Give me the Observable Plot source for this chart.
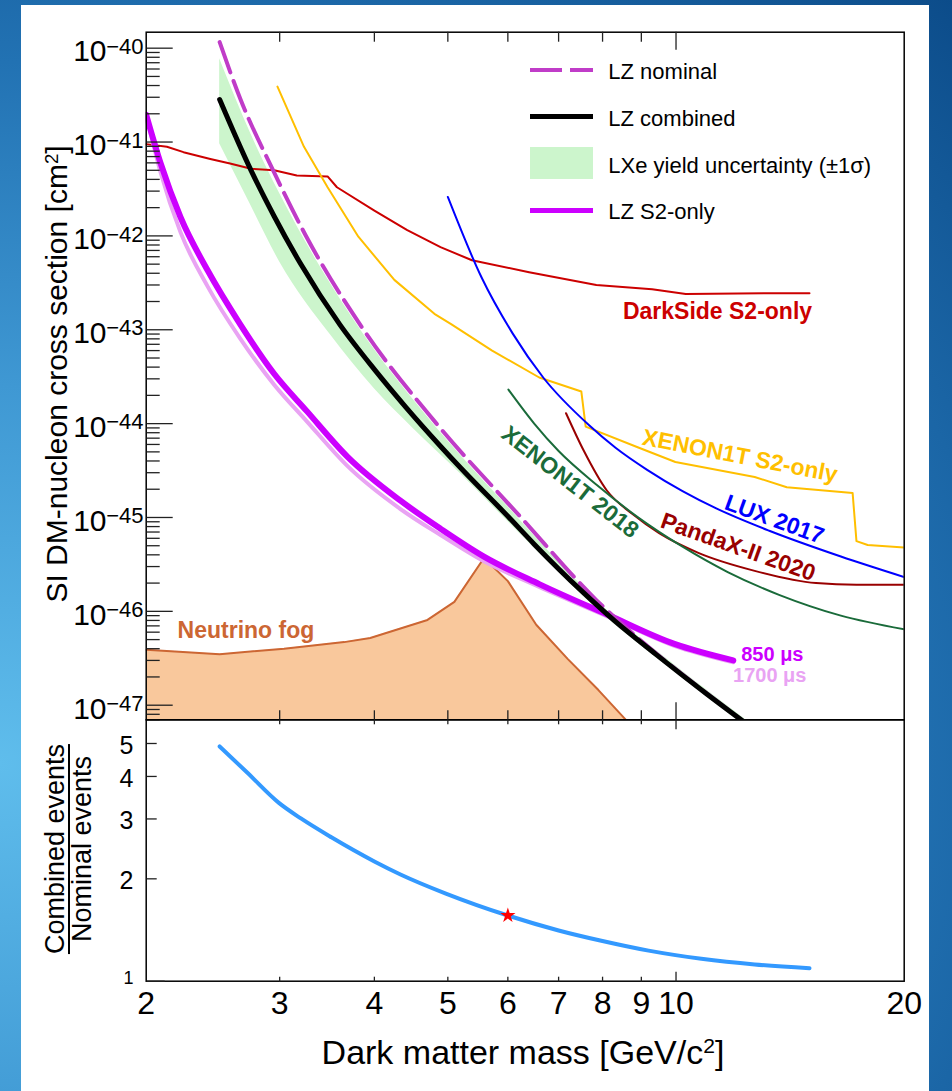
<!DOCTYPE html>
<html>
<head>
<meta charset="utf-8">
<script src="https://cdn.jsdelivr.net/npm/d3@7"></script>
<script src="https://cdn.jsdelivr.net/npm/@observablehq/plot@0.6"></script>
<style>
  html, body { margin:0; padding:0; }
  body { width:952px; height:1091px; position:relative; overflow:hidden;
    background: radial-gradient(ellipse at 0% 70%, #5fbdec 0%, #3f98d3 35%, #2272b3 65%, #0c4c8a 100%);
    font-family: "Liberation Sans", Arial, Helvetica, sans-serif; color:#000; }
  #panel { position:absolute; left:21px; top:5px; width:908px; height:1086px; background:#fff; }
  .layer { position:absolute; left:0; }
  .t { position:absolute; white-space:nowrap; line-height:1; }
  .t sup, .rt sup { font-size:0.62em; vertical-align:0.5em; line-height:0; }
  .sw { position:absolute; }
</style>
</head>
<body>
<div id="panel"></div>
<div id="top" class="layer" style="top:0"></div>
<div id="bot" class="layer" style="top:719px"></div>
<script>
// ---------------- data (mass in GeV/c^2, cross section in cm^2) ----------------
const lzCombinedMass = [2.5, 2.75, 2.95, 3.2, 3.6, 4.0, 4.4, 4.9, 5.2, 6.0, 6.5, 7.5, 8.3, 9.4, 11.0, 12.4];
const lzCombinedXsec = [2.84e-41, 4.99e-42, 1.62e-42, 4.98e-43, 1.14e-43, 3.78e-44, 1.50e-44, 5.64e-45, 3.36e-45, 1.03e-45, 5.2e-46, 1.66e-46, 7.9e-47, 3.5e-47, 1.3e-47, 6.3e-48];

const lzNominalMass = [2.5, 2.664, 2.941, 3.247, 3.871, 4.831, 6.245, 7.856, 9.315, 11.0, 12.4];
const lzNominalXsec = [1.16e-40, 2.84e-41, 4.98e-42, 1.01e-42, 1.0e-43, 1.0e-44, 1.0e-45, 1.31e-46, 3.83e-47, 1.32e-47, 6.3e-48];

const bandMass = [2.5, 2.75, 3.0, 3.5, 4.0, 4.5, 5.2, 6.0, 7.0, 8.0, 10.0, 12.4];
const bandHigh = [7.71e-41, 1.21e-41, 2.83e-42, 3.11e-43, 6.17e-44, 1.81e-44, 4.57e-45, 1.30e-45, 3.37e-46, 1.14e-46, 2.62e-47, 6.87e-48];
const bandLow  = [9.57e-42, 2.09e-42, 5.28e-43, 8.83e-44, 2.35e-44, 8.87e-45, 2.90e-45, 9.06e-46, 2.61e-46, 9.40e-47, 2.20e-47, 5.80e-48];

const s2Mass = [2.0, 2.09, 2.22, 2.41, 2.66, 2.95, 3.26, 3.69, 4.33, 4.89, 5.58, 6.6, 8.1, 9.95, 11.9];
const s2Xsec850  = [1.95e-41, 5.9e-42, 1.58e-42, 4.3e-43, 1.15e-43, 3.4e-44, 1.35e-44, 4.4e-45, 1.51e-45, 7.6e-46, 3.83e-46, 1.95e-46, 9.3e-47, 4.5e-47, 3.0e-47];
const s2Xsec1700 = [1.95e-41, 4.7e-42, 1.09e-42, 2.9e-43, 8.1e-44, 2.6e-44, 1.05e-44, 3.5e-45, 1.23e-45, 6.5e-46, 3.41e-46, 1.82e-46, 8.9e-47, 4.3e-47, 2.87e-47];

const darkSideMass = [2.0, 2.13, 2.24, 2.43, 2.58, 2.75, 2.95, 3.16, 3.47, 3.57, 4.0, 4.42, 4.89, 5.38, 6.4, 7.85, 9.3, 10.3, 13.2, 15.0];
const darkSideXsec = [9.5e-42, 8.9e-42, 7.8e-42, 6.6e-42, 5.9e-42, 5.2e-42, 5.0e-42, 4.4e-42, 4.3e-42, 3.3e-42, 1.86e-42, 1.15e-42, 7.6e-43, 5.5e-43, 4.1e-43, 3.0e-43, 2.7e-43, 2.4e-43, 2.45e-43, 2.45e-43];

const xenonS2Mass = [2.98, 3.23, 3.47, 3.81, 4.25, 4.80, 5.05, 5.72, 6.6, 7.5, 7.6, 8.9, 9.98, 12.7, 14.0, 17.1, 17.3, 17.9, 20];
const xenonS2Xsec = [3.9e-41, 8.9e-42, 3.3e-42, 9.8e-43, 3.4e-43, 1.48e-43, 1.15e-43, 6.0e-44, 3.1e-44, 2.2e-44, 9.3e-45, 5.6e-45, 3.9e-45, 2.7e-45, 2.1e-45, 1.82e-45, 5.6e-46, 5.1e-46, 4.8e-46];

const luxMass = [5.0, 5.54, 6.09, 6.68, 7.68, 8.33, 9.16, 10.2, 11.3, 13.3, 16.5, 20];
const luxXsec = [2.6e-42, 3.6e-43, 9.1e-44, 3.1e-44, 9.6e-45, 5.5e-45, 3.22e-45, 1.91e-45, 1.25e-45, 7.18e-46, 3.84e-46, 2.32e-46];

const pandaxMass = [7.16, 7.56, 8.1, 8.77, 9.5, 10.7, 12.7, 15.3, 17.3, 20];
const pandaxXsec = [1.29e-44, 5.1e-45, 1.95e-45, 1.08e-45, 6.8e-46, 4.2e-46, 2.7e-46, 2.0e-46, 1.92e-46, 1.92e-46];

const xenon2018Mass = [6.01, 6.5, 7.0, 7.87, 8.9, 10.2, 11.7, 13.7, 16.5, 20];
const xenon2018Xsec = [2.3e-44, 1.0e-44, 5.1e-45, 2.2e-45, 1.01e-45, 4.88e-46, 2.62e-46, 1.49e-46, 9.0e-47, 6.44e-47];

const fogMass = [2.0, 2.5, 3.04, 3.65, 3.95, 4.7, 5.1, 5.58, 6.0, 6.54, 7.2, 7.9, 8.6];
const fogXsec = [3.9e-47, 3.5e-47, 4.0e-47, 4.7e-47, 5.2e-47, 8.1e-47, 1.26e-46, 3.7e-46, 2.1e-46, 7.2e-47, 3.1e-47, 1.45e-47, 6.9e-48];

const ratioMass = [2.5, 2.72, 2.99, 3.2, 3.51, 4.0, 4.33, 4.97, 6.0, 7.0, 7.97, 9.2, 10.8, 12.7, 15.0];
const ratioValue = [4.90, 4.10, 3.35, 3.01, 2.65, 2.25, 2.06, 1.81, 1.56, 1.41, 1.315, 1.23, 1.164, 1.12, 1.092];
const starPoint = [{m: 6.0, r: 1.56}];

// tick labels
const yExponents = [-40, -41, -42, -43, -44, -45, -46, -47];
const xTickLabels = [2, 3, 4, 5, 6, 7, 8, 9, 10, 20];
const ratioTickLabels = [2, 3, 4, 5];

// annotation labels
const curveLabels = [
  {text: "DarkSide S2-only", m: 8.51, s: 1.31e-43, color: "#cc0000", rotate: 0, size: 23},
  {text: "XENON1T S2-only", m: 9.0, s: 6.0e-45, color: "#ffbf00", rotate: 11, size: 23},
  {text: "LUX 2017", m: 11.54, s: 1.24e-45, color: "#0000ff", rotate: 20, size: 23},
  {text: "PandaX-II 2020", m: 9.5, s: 7.9e-46, color: "#990000", rotate: 19.5, size: 23},
  {text: "XENON1T 2018", m: 5.86, s: 7.24e-45, color: "#1a6b3a", rotate: 38, size: 23},
  {text: "Neutrino fog", m: 2.2, s: 5.2e-47, color: "#cc6633", rotate: 0, size: 23},
  {text: "850 \u03bcs", m: 12.19, s: 2.99e-47, color: "#cc00ff", rotate: 0, size: 20},
  {text: "1700 \u03bcs", m: 11.89, s: 1.76e-47, color: "#e9a3f3", rotate: 0, size: 20}
];

const legendItems = [
  {label: "LZ nominal", kind: "dash", color: "#c03cc8"},
  {label: "LZ combined", kind: "line", color: "#000000"},
  {label: "LXe yield uncertainty (\u00b11\u03c3)", kind: "box", color: "#ccf5cc"},
  {label: "LZ S2-only", kind: "line", color: "#cc00ff"}
];

const yTitle = "SI DM-nucleon cross section [cm<sup>2</sup>]";
const xTitle = "Dark matter mass [GeV/c<sup>2</sup>]";
const ratioNum = "Combined events";
const ratioDen = "Nominal events";

// ---------------- helpers ----------------
const zip = (ms, ss) => ms.map((m, i) => ({m, s: ss[i]}));
const band = bandMass.map((m, i) => ({m, lo: bandLow[i], hi: bandHigh[i]}));
const ratio = ratioMass.map((m, i) => ({m, r: ratioValue[i]}));
const FONT = '"Liberation Sans", Arial, Helvetica, sans-serif';

const W = 952, ML = 145.7, MR = 48.3, FW = W - ML - MR;
const H1 = 720, MT1 = 31.7, MB1 = 0.7, FH1 = H1 - MT1 - MB1;
const yDomain = [6.99e-48, 1.48e-40];

const yMajor = yExponents.map(e => 10 ** e);
const yMinor = [];
for (let e = -48; e <= -41; e++) for (let k = 2; k <= 9; k++) {
  const v = k * 10 ** e;
  if (v > yDomain[0] && v < yDomain[1]) yMinor.push(v);
}
const xMinor = [3, 4, 5, 6, 7, 8, 9];
const xMajor = [10];
const tk = {fill: "none", stroke: "#222", strokeWidth: 1.3};
const smooth = "monotone-x";

const thin = (data, color, curve = "linear") => Plot.line(data, {x: "m", y: "s", stroke: color, strokeWidth: 2, curve, clip: true});

const topPlot = Plot.plot({
  width: W, height: H1,
  marginLeft: ML, marginRight: MR, marginTop: MT1, marginBottom: MB1,
  x: {type: "log", domain: [2, 20]},
  y: {type: "log", domain: yDomain},
  style: {background: "transparent", overflow: "visible", fontFamily: FONT},
  marks: [
    Plot.areaY(zip(fogMass, fogXsec), {x: "m", y1: yDomain[0], y2: "s", fill: "#f9c89c", clip: true}),
    Plot.line(zip(fogMass, fogXsec), {x: "m", y: "s", stroke: "#cc6633", strokeWidth: 2, clip: true}),
    Plot.areaY(band, {x: "m", y1: "lo", y2: "hi", fill: "#ccf5cc", curve: smooth, clip: true}),
    thin(zip(darkSideMass, darkSideXsec), "#cc0000"),
    thin(zip(xenonS2Mass, xenonS2Xsec), "#ffbf00"),
    thin(zip(luxMass, luxXsec), "#0000ff", smooth),
    thin(zip(pandaxMass, pandaxXsec), "#990000", smooth),
    thin(zip(xenon2018Mass, xenon2018Xsec), "#1a6b3a", smooth),
    Plot.line(zip(s2Mass, s2Xsec1700), {x: "m", y: "s", stroke: "#e9a3f3", strokeWidth: 4, curve: smooth, clip: true}),
    Plot.line(zip(s2Mass, s2Xsec850), {x: "m", y: "s", stroke: "#cc00ff", strokeWidth: 6, curve: smooth, clip: true}),
    Plot.line(zip(lzNominalMass, lzNominalXsec), {x: "m", y: "s", stroke: "#c03cc8", strokeWidth: 4, strokeDasharray: "32,9", curve: smooth, clip: true}),
    Plot.line(zip(lzCombinedMass, lzCombinedXsec), {x: "m", y: "s", stroke: "#000", strokeWidth: 5, curve: smooth, clip: true}),
    Plot.frame({stroke: "#000", strokeWidth: 1.5}),
    Plot.axisY(yMajor, {anchor: "right", dx: -FW, tickSize: 26, ...tk}),
    Plot.axisY(yMinor, {anchor: "right", dx: -FW, tickSize: 13, ...tk}),
    Plot.axisX(xMinor, {anchor: "bottom", dy: -FH1, tickSize: 10, ...tk}),
    Plot.axisX(xMajor, {anchor: "bottom", dy: -FH1, tickSize: 18, ...tk}),
    Plot.axisX(xMinor, {anchor: "top", dy: FH1, tickSize: 10, ...tk}),
    Plot.axisX(xMajor, {anchor: "top", dy: FH1, tickSize: 18, ...tk}),
    Plot.text(yExponents, {x: 2, y: e => 10 ** e, text: () => "10", textAnchor: "end", lineAnchor: "bottom", dx: -39.7, dy: 13.3, fontSize: 30, fill: "#000"}),
    Plot.text(yExponents, {x: 2, y: e => 10 ** e, text: e => "\u2212" + Math.abs(e), textAnchor: "end", lineAnchor: "bottom", dx: -2.7, dy: 5.6, fontSize: 22, fill: "#000"}),
    ...curveLabels.map(l => Plot.text([l], {x: "m", y: "s", text: "text", rotate: l.rotate, fill: l.color, fontSize: l.size, fontWeight: "bold", textAnchor: "start", lineAnchor: "bottom"}))
  ]
});
document.getElementById("top").appendChild(topPlot);

const H2 = 372, MT2 = 0.3, MB2 = 110.3, FH2 = H2 - MT2 - MB2;
const botPlot = Plot.plot({
  width: W, height: H2,
  marginLeft: ML, marginRight: MR, marginTop: MT2, marginBottom: MB2,
  x: {type: "log", domain: [2, 20]},
  y: {type: "log", domain: [1, 5.87]},
  style: {background: "transparent", overflow: "visible", fontFamily: FONT},
  marks: [
    Plot.line(ratio, {x: "m", y: "r", stroke: "#3399ff", strokeWidth: 4, curve: smooth}),
    Plot.dot(starPoint, {x: "m", y: "r", symbol: "star", r: 4.8, fill: "#ff0000", stroke: "none"}),
    Plot.frame({stroke: "#000", strokeWidth: 1.5}),
    Plot.axisY(ratioTickLabels, {anchor: "right", dx: -FW, tickSize: 10, ...tk}),
    Plot.axisY([1], {anchor: "right", dx: -FW, tickSize: 18, ...tk}),
    Plot.axisX(xMinor, {anchor: "top", dy: FH2, tickSize: 5, ...tk}),
    Plot.axisX(xMajor, {anchor: "top", dy: FH2, tickSize: 10, ...tk}),
    Plot.axisX(xMinor, {anchor: "bottom", dy: -FH2, tickSize: 5, ...tk}),
    Plot.axisX(xMajor, {anchor: "bottom", dy: -FH2, tickSize: 10, ...tk}),
    Plot.text(ratioTickLabels, {x: 2, y: d => d, text: d => String(d), textAnchor: "end", lineAnchor: "middle", dx: -12.7, dy: 2.5, fontSize: 25, fill: "#000"}),
    Plot.text([1], {x: 2, y: d => d, text: d => String(d), textAnchor: "end", lineAnchor: "bottom", dx: -12.7, dy: 2.3, fontSize: 18, fill: "#000"}),
    Plot.text(xTickLabels, {x: d => d, y: 1, text: d => String(d), textAnchor: "middle", lineAnchor: "bottom", dy: 32.6, fontSize: 32, fill: "#000"})
  ]
});
document.getElementById("bot").appendChild(botPlot);

// ---------------- HTML titles and legend ----------------
function addText(html, x, base, size, opt = {}) {
  const d = document.createElement("div");
  d.className = "t";
  d.innerHTML = html;
  d.style.fontSize = size + "px";
  d.style.top = (base - 0.8465 * size) + "px";
  d.style.left = x + "px";
  if (opt.anchor === "middle") d.style.transform = "translateX(-50%)";
  if (opt.color) d.style.color = opt.color;
  document.body.appendChild(d);
  return d;
}
addText(xTitle, 523, 1064, 34, {anchor: "middle"});

const yt = document.createElement("div");
yt.className = "t rt";
yt.innerHTML = yTitle;
Object.assign(yt.style, {fontSize: "30px", left: "56.6px", top: "374px", transform: "translate(-50%,-50%) rotate(-90deg)"});
document.body.appendChild(yt);

const fr = document.createElement("div");
Object.assign(fr.style, {position: "absolute", left: "69.15px", top: "849px", transform: "translate(-50%,-50%) rotate(-90deg)",
  fontSize: "27px", lineHeight: "25px", textAlign: "center", whiteSpace: "nowrap"});
fr.innerHTML = `<div style="border-bottom:2px solid #000">${ratioNum}</div><div>${ratioDen}</div>`;
document.body.appendChild(fr);

function box(x, y, w, h, color) {
  const d = document.createElement("div");
  d.className = "sw";
  Object.assign(d.style, {left: x + "px", top: y + "px", width: w + "px", height: h + "px", background: color});
  document.body.appendChild(d);
}
legendItems.forEach((it, i) => {
  const cy = 70 + i * 46.7;
  if (it.kind === "dash") { box(530, cy - 2, 31.7, 4, it.color); box(570, cy - 2, 23.3, 4, it.color); }
  else if (it.kind === "line") box(530, cy - 2.5, 63.3, 5, it.color);
  else box(530, cy - 16, 63.3, 32, it.color);
  addText(it.label, 608.3, cy + 10, 22);
});
</script>
</body>
</html>
